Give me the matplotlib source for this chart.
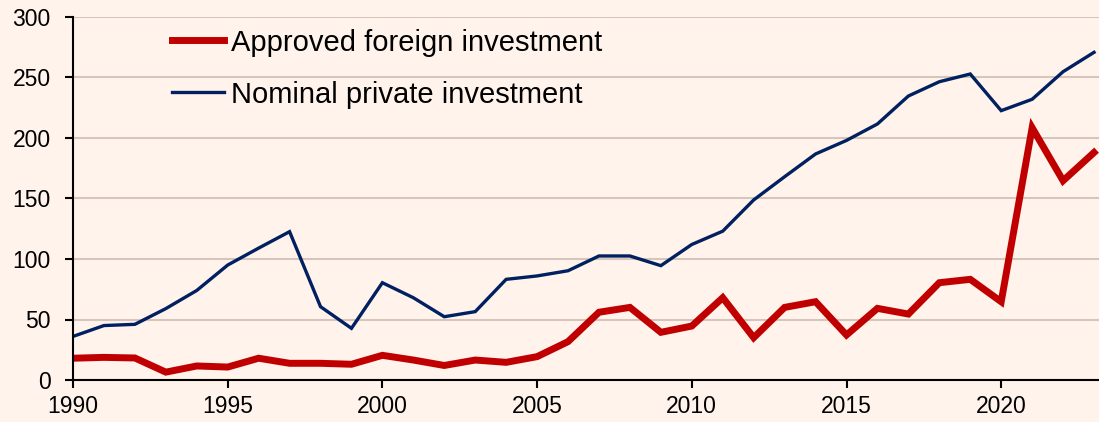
import numpy as np
import matplotlib.pyplot as plt

years = np.arange(1990, 2024)

approved_fdi = [18, 18.7, 18.2, 6.5, 11.6, 10.7, 18, 13.8, 13.8, 13,
                20.4, 16.5, 12, 16.5, 14.6, 19.3, 31.7, 56, 60, 39.4,
                44.6, 68, 35, 60, 64.7, 37.2, 59.2, 54.5, 80.4, 83.2,
                64.7, 208.5, 164.7, 188]

private_inv = [36, 45, 46, 59, 74, 95, 109, 122.6, 60.6, 42.7,
               80.4, 68, 52.3, 56.5, 83.2, 86, 90.3, 102.5, 102.5, 94.5,
               112, 123, 148.8, 168, 186.8, 198, 211.6, 234.7, 246.5, 252.9,
               222.6, 232, 254.8, 270.8]

bg = '#FFF3EC'
plt.rcParams['font.family'] = ['Liberation Sans', 'DejaVu Sans']

fig = plt.figure(figsize=(10.99, 4.22), dpi=100, facecolor=bg)
ax = fig.add_axes([73/1099, 1 - 380/422, 1 - 73/1099, (380 - 17)/422])
ax.set_facecolor(bg)

ax.plot(years, approved_fdi, color='#C00000', lw=5, label='Approved foreign investment',
        solid_joinstyle='miter', zorder=3)
ax.plot(years, private_inv, color='#002060', lw=2.4, label='Nominal private investment',
        solid_joinstyle='miter', zorder=3)

ax.set_xlim(1990, 1990 + (1099 - 73) / 30.94)
ax.set_ylim(0, 300)
ax.set_xticks(np.arange(1990, 2021, 5))
ax.set_yticks(np.arange(0, 301, 50))
ax.yaxis.grid(True, color='#D5C5BA', lw=1.5)
ax.set_axisbelow(True)

for s in ['top', 'right']:
    ax.spines[s].set_visible(False)
for s in ['left', 'bottom']:
    ax.spines[s].set_color('black')
    ax.spines[s].set_linewidth(1.5)
    ax.spines[s].set_zorder(4)

ax.tick_params(axis='both', direction='out', length=6, width=1.5, labelsize=16.5,
               colors='black')
ax.tick_params(axis='y', pad=10)
ax.tick_params(axis='x', pad=5)

ax.legend(loc='upper left', bbox_to_anchor=(0.085, 1.0), frameon=False, fontsize=21,
          handlelength=1.78, handletextpad=0.24, labelspacing=0.82, borderaxespad=0)

fig.savefig('out.png', dpi=100, facecolor=bg)
